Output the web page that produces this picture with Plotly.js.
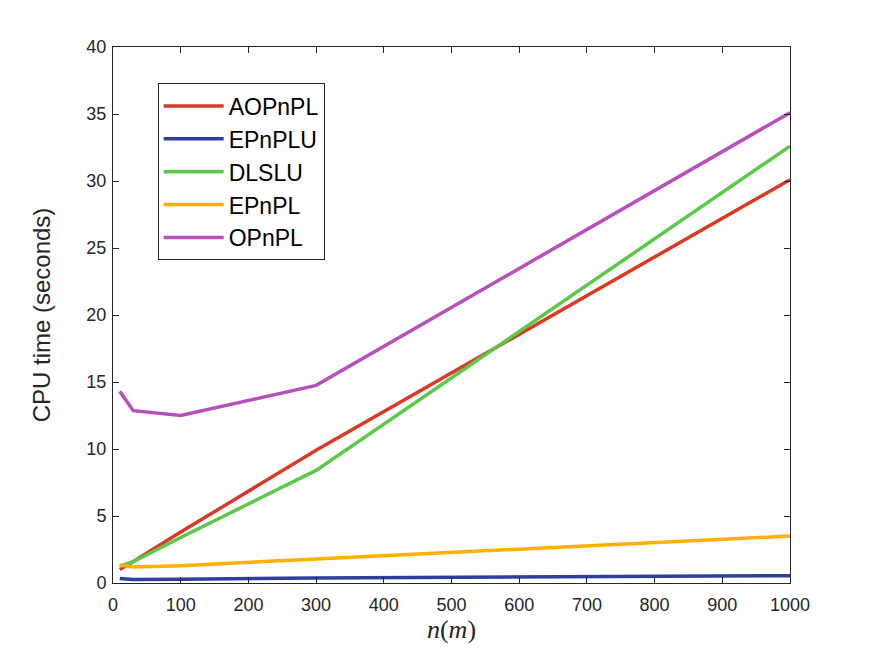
<!DOCTYPE html>
<html>
<head>
<meta charset="utf-8">
<script src="https://cdn.plot.ly/plotly-3.0.1.min.js"></script>
<style>html,body{margin:0;padding:0;background:#fff;}</style>
</head>
<body>
<div id="chart" style="width:872px;height:654px;"></div>
<script>
const nValues = [10, 30, 100, 300, 1000];
const seriesNames = ["AOPnPL", "EPnPLU", "DLSLU", "EPnPL", "OPnPL"];
const aopnpl = [1.0, 1.6, 3.8, 9.9, 30.1];
const epnplu = [0.33, 0.27, 0.28, 0.38, 0.55];
const dlslu = [1.25, 1.6, 3.4, 8.4, 32.6];
const epnpl = [1.35, 1.2, 1.28, 1.8, 3.5];
const opnpl = [14.3, 12.86, 12.5, 14.75, 35.1];
const xTicks = [0, 100, 200, 300, 400, 500, 600, 700, 800, 900, 1000];
const yTicks = [0, 5, 10, 15, 20, 25, 30, 35, 40];

const colors = ["#d93a26", "#2e3f9c", "#5cc84a", "#ffb000", "#b84fbb"];
const allY = [aopnpl, epnplu, dlslu, epnpl, opnpl];

const traces = allY.map((ys, i) => ({
  x: nValues, y: ys, name: seriesNames[i], type: "scatter", mode: "lines",
  legendgroup: "g" + i,
  line: {color: colors[i], width: 3.5}
}));

const axisCommon = {
  showline: true, linecolor: "#262626", linewidth: 1, mirror: "ticks",
  ticks: "inside", ticklen: 6, tickcolor: "#262626", showgrid: false, zeroline: false,
  tickfont: {family: "Liberation Sans, Arial, sans-serif", size: 18, color: "#262626"}
};

const layout = {
  width: 872, height: 654,
  margin: {l: 113, r: 82, t: 47, b: 71},
  paper_bgcolor: "#fff", plot_bgcolor: "#fff",
  showlegend: true,
  legend: {
    x: 0.066, y: 0.932, xanchor: "left", yanchor: "top",
    bordercolor: "#262626", borderwidth: 1, bgcolor: "#fff",
    font: {family: "Liberation Sans, Arial, sans-serif", size: 23, color: "#000"},
    tracegroupgap: 0, itemwidth: 60
  },
  xaxis: Object.assign({}, axisCommon, {
    range: [0, 1000], tickvals: xTicks, ticktext: xTicks.map(String),
    ticklabelstandoff: 5,
    title: {text: "<i>n</i>(<i>m</i>)", standoff: 4,
      font: {family: "Liberation Serif, DejaVu Serif, serif", size: 26, color: "#262626"}}
  }),
  yaxis: Object.assign({}, axisCommon, {
    range: [0, 40], tickvals: yTicks, ticktext: yTicks.map(String),
    ticklabelstandoff: 2,
    title: {text: "CPU time (seconds)", standoff: 28,
      font: {family: "Liberation Sans, Arial, sans-serif", size: 24, color: "#262626"}}
  })
};

Plotly.newPlot("chart", traces, layout, {displayModeBar: false, staticPlot: true});
</script>
</body>
</html>
